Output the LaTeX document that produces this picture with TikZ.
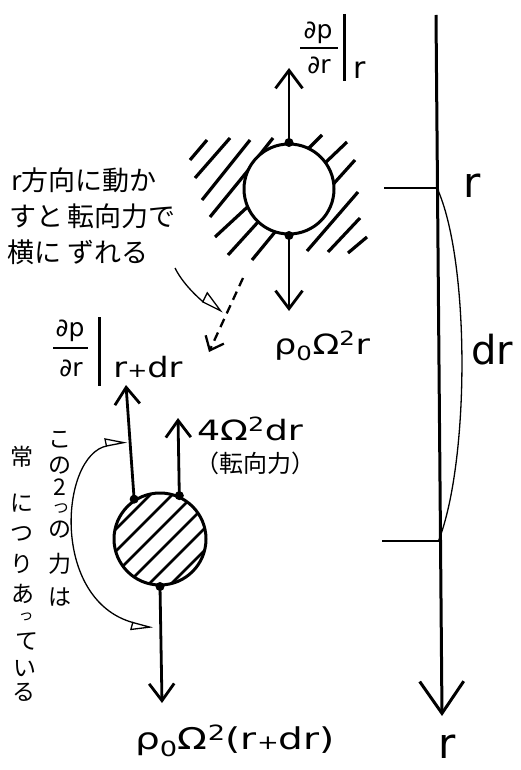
\documentclass[tikz,border=0pt]{standalone}
\usepackage{fontspec}
\usepackage{graphicx}
\setmainfont{DejaVu Sans}
\newfontfamily\jp{Noto Sans CJK JP}
\usetikzlibrary{arrows.meta}
\newcommand\widen[2]{\scalebox{#1}[1]{#2}}
\begin{document}
\begin{tikzpicture}[x=1pt,y=-1pt,
  vec/.style={line width=2.8pt,-{Straight Barb[length=18pt,width=27pt]}},
  vecs/.style={line width=2.8pt,-{Straight Barb[length=17pt,width=25pt]}},
  dotnode/.style={circle,fill=black,inner sep=0pt,minimum size=9pt},
  hatchline/.style={line width=3.2pt},
  hatchin/.style={line width=2.6pt},
  ball/.style={circle,draw,line width=3pt,inner sep=0pt,minimum size=#1},
  lbl/.style={inner sep=0pt},
  jpt/.style={inner sep=0pt,anchor=west,font=\jp\fontsize{27}{30}\selectfont},
  jpv/.style={inner sep=0pt,font=\jp\fontsize{23}{23}\selectfont},
  jpsmall/.style={inner sep=0pt,font=\jp\fontsize{15}{15}\selectfont},
  thinline/.style={line width=1.3pt},
  barline/.style={line width=2.6pt},
  fracfont/.style={lbl,font=\fontsize{25}{25}\selectfont}
]
\useasboundingbox (0,0) rectangle (521,770);

% ---------- r axis ----------
\coordinate (atop) at (436,15);
\coordinate (abot) at (442,716);
\draw[line width=3pt,-{Straight Barb[length=32pt,width=44pt]}] (atop) -- (abot);
\coordinate (ax1) at (437,188);
\coordinate (tk1) at (384,188);
\coordinate (ax2) at (438.5,541);
\coordinate (tk2) at (382,541);
\draw[line width=2.8pt] (tk1) -- (ax1);
\draw[line width=2.8pt] (tk2) -- (ax2);
\draw[thinline] (ax1) .. controls (470,260) and (470,460) .. (ax2);
\node[lbl,font=\fontsize{42}{42}\selectfont] (rlab) at (472,186) {r};
\node[lbl,font=\fontsize{40}{40}\selectfont] (drlab) at (492,350) {dr};
\node[lbl,font=\fontsize{42}{42}\selectfont] (rax) at (447,747) {r};

% ---------- upper parcel ----------
\foreach \a/\b/\c/\d in {190/160/207/140, 195/178/230/138, 202/200/250/140,
  258/157/273/138, 210/217/250/168, 215/237/255/200, 228/255/258/222,
  252/260/275/232, 305/152/322/135, 325/163/347/142, 328/190/355/160,
  307/251/358/192, 328/252/360/218, 348/253/367/237}
  \draw[hatchline] (\a,\b) -- (\c,\d);
\node[ball=90pt,fill=white] (c1) at (289,189) {};
\node[dotnode] (d1) at (c1.north) {};
\node[dotnode] (d2) at (c1.south) {};
\coordinate (u1) at (289,68);
\coordinate (u2) at (289,311);
\draw[vec] (d1.center) -- (u1);
\draw[vec] (d2.center) -- (u2);

% dp/dr | r
\node[fracfont] (n1) at (318,33) {∂p};
\node[fracfont] (m1) at (319,65) {∂r};
\coordinate (b1a) at (300,48);
\coordinate (b1b) at (338,48);
\draw[barline] (b1a) -- (b1b);
\coordinate (v1a) at (344,14);
\coordinate (v1b) at (344,81);
\draw[line width=3pt] (v1a) -- (v1b);
\node[lbl,font=\fontsize{30}{30}\selectfont] (s1) at (360,70) {r};

\node[lbl,font=\fontsize{28}{28}\selectfont] (g1) at (322,346)
  {\widen{1.25}{ρ\textsubscript{0}Ω\textsuperscript{2}r}};

% ---------- annotation ----------
\node[jpt] (j1) at (11,180) {r方向に動か};
\node[jpt] (j2) at (9,216) {すと\,転向力で};
\node[jpt] (j3) at (7,252) {横に\hspace{6pt}ずれる};
\coordinate (ta) at (175,268);
\coordinate (tb) at (223,312);
\draw[thinline,-{Triangle[open,left,length=22pt,width=22pt,line width=1.3pt]}]
  (ta) .. controls (185,288) and (205,303) .. (tb);

\coordinate (da) at (243,278);
\coordinate (db) at (209,352);
\draw[line width=2.3pt,dash pattern=on 9pt off 6pt,
  -{Straight Barb[length=12pt,width=20pt]}] (da) -- (db);

% ---------- lower parcel ----------
\begin{scope}
  \clip (160,539) circle (46);
  \foreach \s in {645,667,689,711,733,755}
    \draw[hatchin] (90,\s-90) -- (230,\s-230);
\end{scope}
\node[ball=92pt] (c2) at (160,539) {};
\node[dotnode] (d3) at (c2.123) {};
\node[dotnode] (d4) at (c2.66) {};
\node[dotnode] (d5) at (c2.south) {};
\coordinate (l1) at (126,385);
\coordinate (l2) at (178,418);
\coordinate (l3) at (162,703);
\draw[vecs] (d3.center) -- (l1);
\draw[vecs] (d4.center) -- (l2);
\draw[vecs] (d5.center) -- (l3);

% dp/dr | r+dr
\node[fracfont] (n2) at (70,331) {∂p};
\node[fracfont] (m2) at (71,368) {∂r};
\coordinate (b2a) at (53,348);
\coordinate (b2b) at (88,348);
\draw[barline] (b2a) -- (b2b);
\coordinate (v2a) at (99,317);
\coordinate (v2b) at (99,386);
\draw[line width=3pt] (v2a) -- (v2b);
\node[lbl,font=\fontsize{28}{28}\selectfont] (s2) at (148,367)
  {\widen{1.2}{r{\fontsize{20}{20}\selectfont+}dr}};

\node[lbl,font=\fontsize{28}{28}\selectfont] (cor) at (250,429)
  {\widen{1.3}{4Ω\textsuperscript{2}dr}};
\node[lbl,font=\jp\fontsize{24}{24}\selectfont] (corj) at (255,463) {（転向力）};

\node[lbl,font=\fontsize{30}{30}\selectfont] (g2) at (235,741)
  {\widen{1.3}{ρ\textsubscript{0}Ω\textsuperscript{2}(r{\fontsize{20}{20}\selectfont+}dr)}};

% vertical text
\foreach \ch/\y [count=\i] in {こ/440, の/466, 2/487, の/530, 力/564, は/597}
  \node[jpv] (va\i) at (60,\y) {\ch};
\node[jpsmall] (vatsu) at (61,509) {つ};
\foreach \ch/\x/\y [count=\i] in {常/22/457, に/22/503, つ/22/534, り/22/564,
  あ/23/594, て/27/641, い/25/669, る/24/692}
  \node[jpv] (vb\i) at (\x,\y) {\ch};
\node[jpsmall] (vbtsu) at (26,617) {っ};

\coordinate (ca) at (127,442);
\coordinate (cb) at (153,628);
\draw[thinline,{Triangle[open,left,length=20pt,width=16pt,line width=1.3pt]}-{Triangle[open,right,length=20pt,width=16pt,line width=1.3pt]}]
  (ca) .. controls (60,455) and (50,600) .. (cb);
\end{tikzpicture}
\end{document}
